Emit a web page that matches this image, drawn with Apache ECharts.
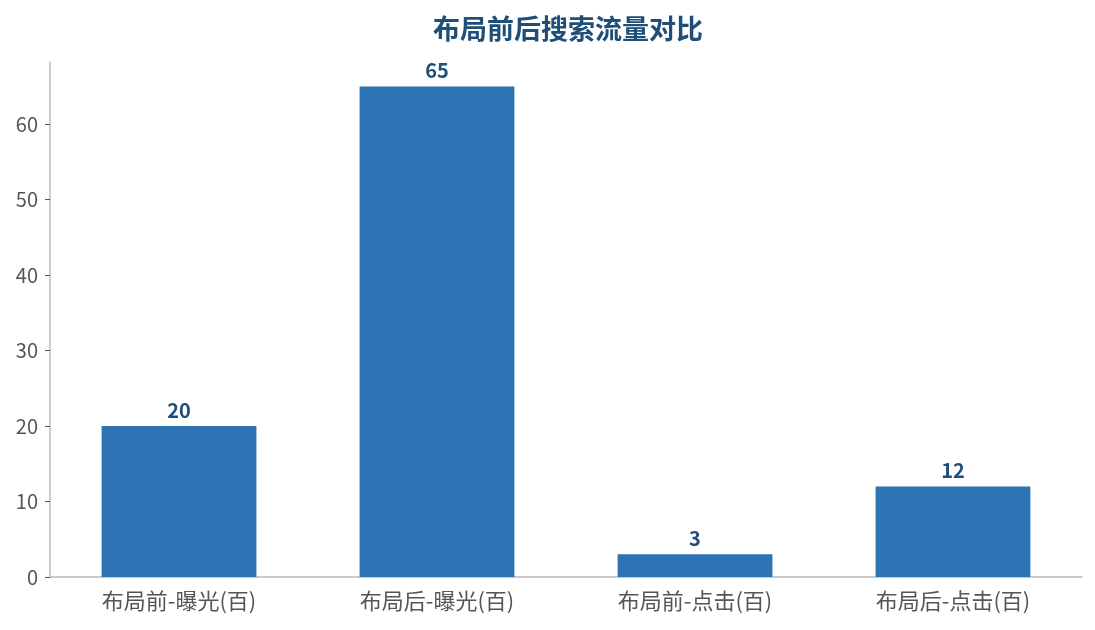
<!DOCTYPE html>
<html>
<head>
<meta charset="utf-8">
<script src="https://cdn.jsdelivr.net/npm/echarts@6/dist/echarts.min.js"></script>
<style>
  html, body { margin: 0; padding: 0; background: #fff; }
  #chart { width: 1095px; height: 630px; }
</style>
</head>
<body>
<div id="chart"></div>
<script>
var categories = ['布局前-曝光(百)', '布局后-曝光(百)', '布局前-点击(百)', '布局后-点击(百)'];
var values = [20, 65, 3, 12];
var yTicks = [0, 10, 20, 30, 40, 50, 60];

var font = '"Noto Sans CJK SC", "Noto Sans", sans-serif';
var chart = echarts.init(document.getElementById('chart'));

var option = {
  backgroundColor: '#fff',
  title: {
    text: '布局前后搜索流量对比',
    left: 563,
    textAlign: 'center',
    top: 10,
    textStyle: { fontFamily: font, fontSize: 27, fontWeight: 'bold', color: '#1f4e79' }
  },
  grid: { left: 50, right: 13, top: 62, bottom: 53 },
  xAxis: {
    type: 'category',
    data: categories,
    axisLine: { lineStyle: { color: '#bbbbbb', width: 1.5 } },
    axisTick: { alignWithLabel: true, length: 5, lineStyle: { color: '#555' } },
    axisLabel: { fontFamily: font, fontSize: 22, color: '#555', margin: 13 }
  },
  yAxis: {
    type: 'value',
    min: 0,
    max: 68.25,
    interval: 10,
    axisLine: { show: true, lineStyle: { color: '#bbbbbb', width: 1.5 } },
    axisTick: { show: true, length: 5, lineStyle: { color: '#555' } },
    splitLine: { show: false },
    axisLabel: {
      fontFamily: font, fontSize: 20, color: '#555', margin: 12,
      showMaxLabel: false,
      formatter: function (v) { return yTicks.indexOf(v) >= 0 ? String(v) : ''; }
    }
  },
  series: [{
    type: 'bar',
    data: values,
    barWidth: '60%',
    itemStyle: { color: '#2e73b4' },
    label: {
      show: true,
      position: 'top',
      distance: 6,
      fontFamily: font,
      fontSize: 20,
      fontWeight: 'bold',
      color: '#1f4e79'
    }
  }]
};
chart.setOption(option);
</script>
</body>
</html>
